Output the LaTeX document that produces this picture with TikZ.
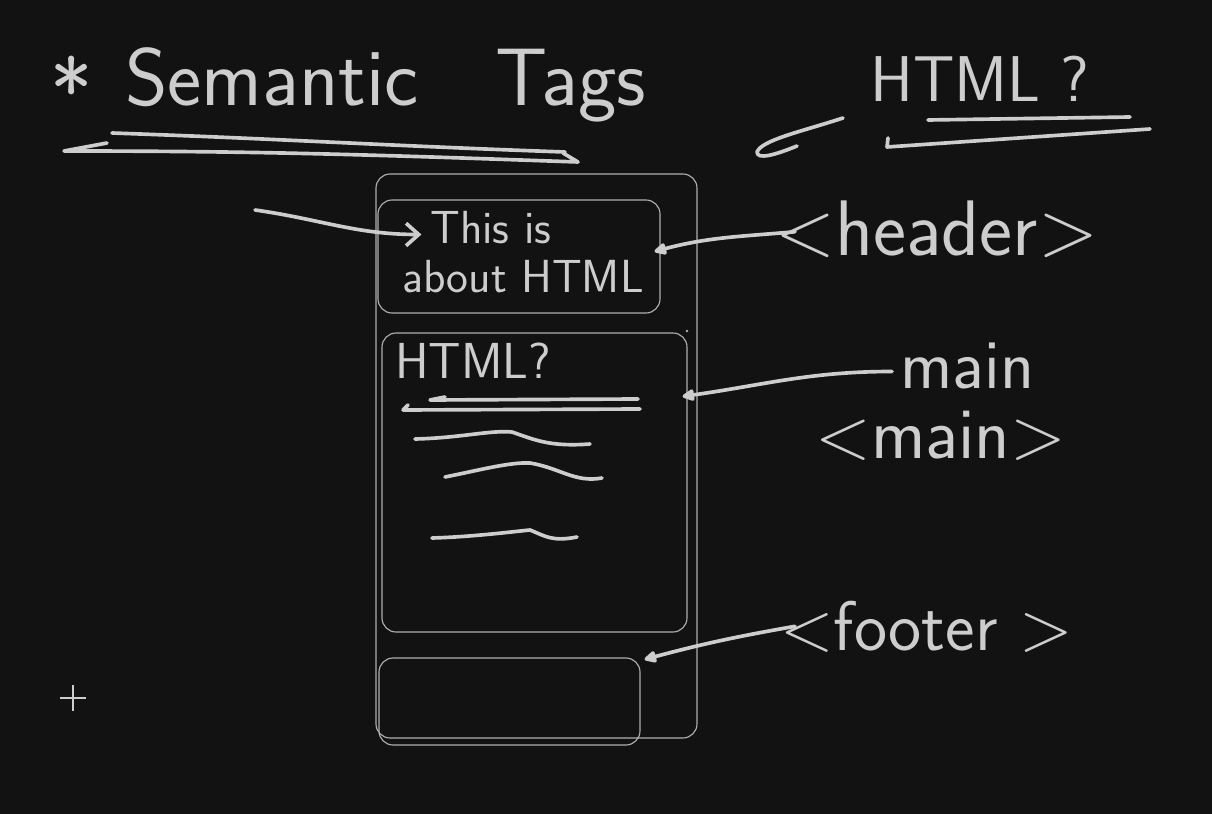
\documentclass[tikz,border=0pt]{standalone}
\usepackage{xcolor}
\usetikzlibrary{calc,arrows.meta,positioning,fit}
\definecolor{board}{HTML}{121212}
\definecolor{chalk}{HTML}{CDCDCD}
\definecolor{frame}{HTML}{B0B0B0}
\tikzset{
  hand/.style={text=chalk, inner sep=0pt, anchor=base west},
  stroke/.style={chalk, line width=2.6pt, line cap=round, line join=round},
  pane/.style={draw=frame, line width=0.8pt, rounded corners=10pt, inner sep=0pt},
  pointer/.style={stroke, -{Triangle[length=10pt,width=9pt,round]}},
  barb/.style={stroke, -{Straight Barb[length=9pt,width=16pt]}},
}
\begin{document}
\begin{tikzpicture}[x=0.025cm, y=-0.025cm]
  % 背景
  \fill[board] (0,0) rectangle (1212,814);
  \useasboundingbox (0,0) rectangle (1212,814);

  % タイトル
  \node[hand, font=\sffamily\fontsize{64}{64}\selectfont] (star) at (50,124) {*};
  \node[hand, font=\sffamily\fontsize{58}{60}\selectfont] (semantic) at (125,106) {Semantic};
  \node[hand, font=\sffamily\fontsize{58}{60}\selectfont] (tags) at (495,106) {Tags};
  \draw[stroke] (112,133) to[out=-2, in=178] (565,152);
  \draw[stroke] (107,143) -- (64,151) to[out=0, in=178] (578,162) -- (563,153);

  % 右上のメモ
  \node[hand, font=\sffamily\fontsize{46}{48}\selectfont] (question) at (870,102) {HTML ?};
  \draw[stroke] (928,120) -- (1130,117);
  \draw[stroke] (888,138) -- (887,147) -- (1150,129);
  \draw[stroke] (843,118) .. controls (800,132) and (762,140) .. (757,152)
    .. controls (757,160) and (775,155) .. (797,146);

  % ページの枠
  \node[pane, fit={(376,174) (697,738)}] (page) {};
  \node[pane, fit={(378,200) (660,313)}] (header) {};
  \node[pane, fit={(382,333) (687,632)}] (main) {};
  \node[pane, fit={(379,658) (640,745)}] (footer) {};
  \fill[frame] (687,331) circle (1pt);

  % ヘッダーの中身
  \node[hand, font=\sffamily\fontsize{33}{33}\selectfont] (line1) at (430,244) {This is};
  \node[hand, font=\sffamily\fontsize{33}{33}\selectfont] (line2) at (402,292) {about HTML};
  \coordinate (tail) at (255,210);
  \draw[barb] (tail) to[out=-8, in=180] ($(header.west)+(44,-22)$);

  % メインの中身
  \node[hand, font=\sffamily\fontsize{36}{36}\selectfont] (inner) at (395,378) {HTML?};
  \draw[stroke] (445,397) -- (430,400) -- (638,399);
  \draw[stroke] (408,405) -- (403,410) -- (640,409);
  \draw[stroke] (415,439) .. controls (460,438) and (490,430) .. (512,432)
    .. controls (535,440) and (550,447) .. (590,444);
  \draw[stroke] (445,477) .. controls (480,470) and (510,462) .. (530,463)
    .. controls (560,468) and (575,483) .. (602,478);
  \draw[stroke] (432,538) .. controls (470,537) and (510,532) .. (530,530)
    .. controls (545,536) and (552,542) .. (577,537);

  % ラベルと矢印
  \node[hand, font=\sffamily\fontsize{56}{56}\selectfont] (hdrlabel) at (775,256) {<header>};
  \node[hand, font=\sffamily\fontsize{50}{50}\selectfont] (mainword) at (900,388) {main};
  \node[hand, font=\sffamily\fontsize{52}{52}\selectfont] (mainlabel) at (815,458) {<main>};
  \node[hand, font=\sffamily\fontsize{50}{50}\selectfont] (ftrlabel) at (780,650) {<footer >};

  \draw[pointer] ($(hdrlabel.west)+(20,2)$) to[out=185, in=15] ($(header.east)+(-6,-5)$);
  \draw[pointer] ($(mainword.west)+(-8,6)$) to[out=180, in=8] ($(main.north east)+(-5,64)$);
  \draw[pointer] ($(ftrlabel.west)+(15,0)$) to[out=190, in=15] ($(footer.north east)+(4,2)$);

  % 左下の十字
  \draw[chalk, line width=2pt] (60,698) -- (86,698) (73,685) -- (73,711);
\end{tikzpicture}
\end{document}
